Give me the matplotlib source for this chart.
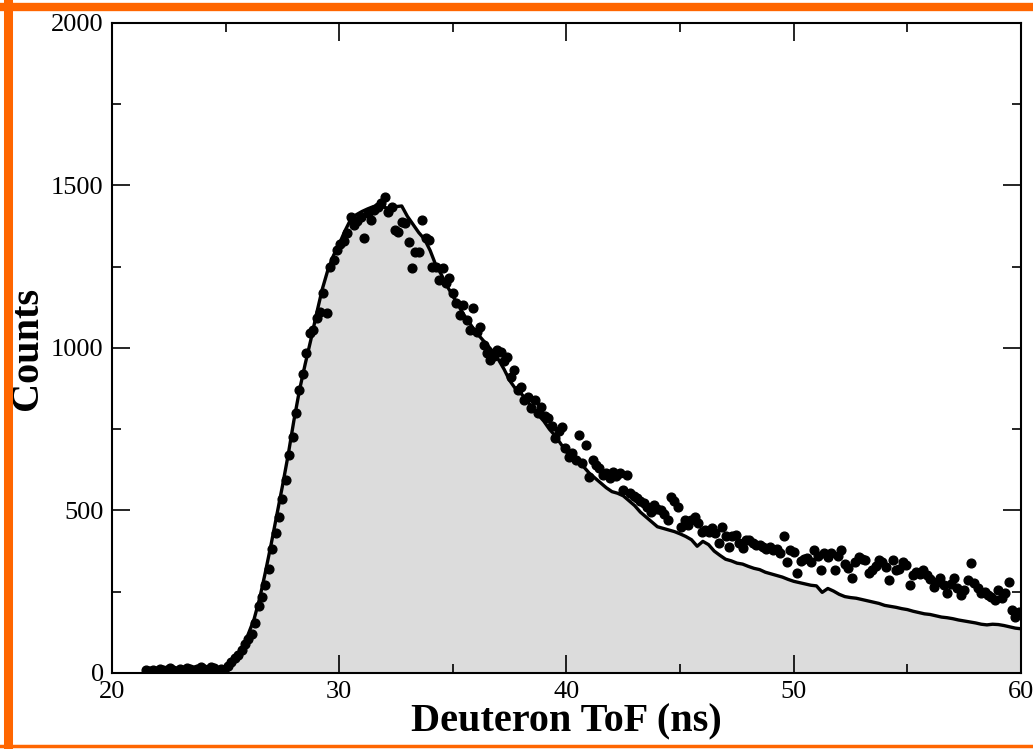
import numpy as np
import matplotlib.pyplot as plt
from matplotlib.lines import Line2D
from matplotlib.ticker import MultipleLocator

# simulated ToF spectrum (solid line, filled)
sim_tof = np.arange(24.5, 60.01, 0.25)
sim_counts = [0, 5, 15, 30, 50, 80, 120, 165, 230, 310,
              395, 485, 575, 670, 775, 870, 950, 1025, 1105, 1180,
              1240, 1285, 1320, 1360, 1395, 1410, 1420, 1428, 1435, 1440,
              1432, 1430, 1435, 1437, 1405, 1380, 1355, 1335, 1300, 1255,
              1225, 1190, 1160, 1130, 1100, 1075, 1050, 1030, 1010, 990,
              965, 935, 900, 875, 860, 840, 815, 795, 775, 750,
              730, 705, 680, 665, 648, 635, 615, 600, 585, 570,
              558, 553, 545, 530, 515, 495, 480, 465, 450, 445,
              440, 435, 428, 420, 410, 390, 405, 395, 375, 362,
              350, 345, 338, 335, 328, 322, 318, 310, 305, 300,
              295, 288, 282, 278, 274, 270, 268, 248, 260, 252,
              242, 235, 232, 230, 226, 222, 218, 214, 208, 205,
              202, 198, 195, 190, 186, 182, 180, 176, 172, 170,
              167, 163, 160, 157, 154, 150, 148, 150, 149, 146,
              142, 138, 136]

# measured ToF spectrum (dots), bins of 0.15 ns from 21.5 ns
exp_tof = 21.5 + 0.15 * np.arange(257)
exp_counts = [8, 5, 10, 6, 12, 8, 10, 14, 9, 7,
              12, 10, 15, 11, 8, 13, 17, 12, 10, 18,
              14, 5, 12, 8, 20, 35, 45, 55, 70, 90,
              105, 120, 153, 205, 235, 270, 320, 380, 430, 480,
              535, 595, 670, 725, 800, 870, 920, 985, 1046, 1055,
              1092, 1110, 1169, 1107, 1250, 1271, 1300, 1320, 1330, 1354,
              1404, 1378, 1390, 1404, 1338, 1415, 1394, 1425, 1434, 1445,
              1465, 1419, 1435, 1363, 1358, 1389, 1385, 1327, 1246, 1296,
              1296, 1394, 1338, 1332, 1250, 1250, 1209, 1246, 1200, 1215,
              1169, 1138, 1100, 1132, 1086, 1055, 1123, 1050, 1066, 1010,
              985, 963, 975, 994, 989, 960, 973, 912, 932, 871,
              880, 840, 850, 815, 840, 800, 819, 790, 784, 760,
              723, 745, 758, 692, 666, 677, 655, 732, 646, 701,
              604, 655, 640, 630, 610, 615, 600, 619, 605, 615,
              563, 609, 553, 545, 538, 530, 522, 510, 496, 517,
              505, 500, 490, 471, 543, 530, 512, 450, 470, 455,
              470, 481, 460, 435, 440, 435, 445, 430, 400, 450,
              420, 389, 420, 425, 400, 385, 409, 410, 400, 394,
              394, 389, 380, 389, 378, 380, 369, 420, 343, 378,
              373, 307, 345, 350, 354, 343, 378, 360, 317, 369,
              358, 369, 317, 360, 378, 335, 323, 292, 340, 358,
              350, 348, 307, 317, 330, 348, 340, 327, 286, 348,
              317, 320, 340, 332, 271, 300, 312, 305, 317, 302,
              290, 266, 280, 292, 270, 245, 275, 292, 260, 240,
              256, 286, 338, 276, 260, 245, 250, 240, 235, 225,
              256, 230, 245, 281, 194, 173, 189]

plt.rcParams['font.family'] = ['Liberation Serif', 'DejaVu Serif']

fig = plt.figure(figsize=(10.33, 7.49), dpi=100)
ax = fig.add_axes([0.1084, 0.1015, 0.88, 0.8678])

ax.fill_between(sim_tof, 0, sim_counts, color='#dcdcdc', lw=0, zorder=1)
ax.plot(sim_tof, sim_counts, color='black', lw=2.4, zorder=2)
ax.plot(exp_tof, exp_counts, 'o', color='black', ms=6.3, zorder=3)

ax.set_xlim(20, 60)
ax.set_ylim(0, 2000)
ax.xaxis.set_major_locator(MultipleLocator(10))
ax.xaxis.set_minor_locator(MultipleLocator(5))
ax.yaxis.set_major_locator(MultipleLocator(500))
ax.yaxis.set_minor_locator(MultipleLocator(250))
ax.tick_params(which='both', direction='in', top=True, right=True, width=1.2,
               labelsize=19)
ax.tick_params(axis='x', pad=6)
ax.tick_params(axis='y', pad=6)
ax.tick_params(which='major', length=13)
ax.tick_params(which='minor', length=6.5)
for sp in ax.spines.values():
    sp.set_linewidth(1.5)

ax.set_xlabel('Deuteron ToF (ns)', fontsize=29, fontweight='bold', labelpad=0)
ax.set_ylabel('Counts', fontsize=29, fontweight='bold')
ax.yaxis.set_label_coords(-0.073, 0.5)

# orange frame (clipped on the right)
orange = '#ff6600'
fig.add_artist(Line2D([7.5 / 1033, 7.5 / 1033], [0, 1], color=orange, lw=6.5,
                      transform=fig.transFigure))
fig.add_artist(Line2D([0, 1], [1 - 7 / 749, 1 - 7 / 749], color=orange, lw=6,
                      transform=fig.transFigure))
fig.add_artist(Line2D([0, 1], [3 / 749, 3 / 749], color=orange, lw=2.5,
                      transform=fig.transFigure))

fig.savefig('out.png', dpi=100)
